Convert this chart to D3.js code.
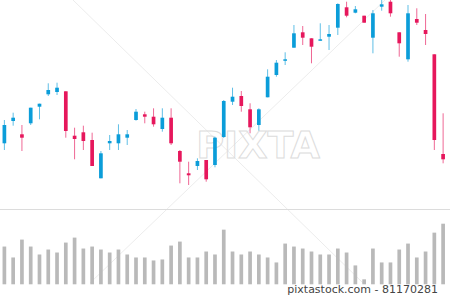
<!DOCTYPE html>
<html>
<head>
<meta charset="utf-8">
<script src="https://cdn.jsdelivr.net/npm/d3@7"></script>
<style>
  body { margin: 0; background: #fff; }
  svg { display: block; }
</style>
</head>
<body>
<svg></svg>
<script>
// price values (arbitrary units)
var opens  = [56.7, 79, 65.7, 76.7, 93.3, 105.7, 108, 108.7, 64.3, 67.7,
              60, 21.7, 56.7, 56.7, 62.3, 80, 85.7, 83.3, 71, 82.3,
              49, 26.7, 34, 40, 35, 63, 98.3, 104, 90.7, 75,
              102.7, 125, 139.3, 152.3, 167.7, 161.7, 159.3, 163.3, 172.3, 192.7,
              187.3, 184.3, 162.3, 193.3, 198.3, 167.7, 140.7, 181, 170, 145.7, 46];
var closes = [75, 82.3, 62.3, 92.3, 96.3, 110, 112.3, 69, 61, 59,
              34, 46.7, 59, 65.7, 65.7, 88.3, 83.3, 75.7, 82.3, 56.7,
              38.3, 24.7, 39, 20.7, 62.3, 99, 103.3, 94, 72.7, 90.7,
              123.3, 137.3, 140.7, 166.7, 162.3, 153.3, 160.7, 166, 196, 184.3,
              190.7, 177.3, 186.7, 195.7, 186.7, 156.7, 186.7, 177.3, 166, 60, 40.7];
var highs  = [80, 87.3, 75, 92.3, 96.3, 116.7, 117.3, 108.7, 72.3, 74.3,
              67.3, 49, 65, 75.7, 70, 91, 88.3, 91.7, 91.7, 91.7,
              50, 38.3, 41.7, 40, 63.3, 100, 112.3, 109, 96.7, 91.7,
              130.7, 140, 147.7, 175, 174, 161.7, 176.7, 175, 196.7, 198.3,
              194, 184.3, 190, 200, 200, 167.7, 195, 191.7, 186, 145.7, 86.7];
var lows   = [50, 74.3, 49, 75, 80.7, 104, 105, 62.3, 40.7, 50,
              34, 21.7, 50, 50, 55, 79.3, 76.7, 73.3, 68.3, 55,
              16.7, 15, 30, 18.3, 32.7, 62, 95, 88.3, 66.7, 69.3,
              102.7, 123.3, 135, 152.3, 155, 136.7, 159.3, 150, 165, 182.7,
              186.7, 177.3, 146.7, 189.3, 183.3, 143.3, 138.3, 175, 155, 50, 36.7];
var volumes = [38, 27, 45, 38, 30, 35, 32, 42, 47, 36,
               38, 35, 32, 35, 30, 27, 27, 24, 25, 39,
               43, 27, 27, 33, 30, 55, 33, 30, 33, 30,
               27, 22, 41, 38, 36, 33, 30, 30, 36, 32,
               19, 5, 36, 22, 22, 35, 41, 27, 33, 52, 61];
var watermark = "PIXTA";
var credit = "pixtastock.com - 81170281";

var width = 450, height = 303;
var upColor = "#0b9dd9", downColor = "#e6175c";

var svg = d3.select("svg")
  .attr("width", width)
  .attr("height", height);

var data = opens.map(function(o, i) {
  return {i: i, open: o, close: closes[i], high: highs[i], low: lows[i], vol: volumes[i]};
});

var x = d3.scaleBand()
  .domain(d3.range(data.length))
  .range([0, 447.5])
  .paddingInner(0.58)
  .paddingOuter(0.29);

var y = d3.scaleLinear()
  .domain([0, 200])
  .range([200, 0]);

var yVol = d3.scaleLinear()
  .domain([0, 61])
  .range([284.3, 223.7]);

// faint watermark behind
var wm = svg.append("g").attr("class", "watermark");
wm.append("line")
  .attr("x1", 73).attr("y1", 0).attr("x2", 363).attr("y2", 283)
  .attr("stroke", "#ececec").attr("stroke-width", 1);
wm.append("line")
  .attr("x1", 385).attr("y1", 0).attr("x2", 90).attr("y2", 283)
  .attr("stroke", "#ececec").attr("stroke-width", 1);
wm.append("text")
  .attr("x", 258).attr("y", 158)
  .attr("text-anchor", "middle")
  .attr("font-family", "DejaVu Sans")
  .attr("font-weight", "bold")
  .attr("font-size", 38)
  .attr("fill", "none")
  .attr("stroke", "#dcdcdc")
  .attr("stroke-width", 1)
  .text(watermark);

// separator between price and volume
svg.append("line")
  .attr("x1", 0).attr("x2", width)
  .attr("y1", 209.5).attr("y2", 209.5)
  .attr("stroke", "#dcdcdc");

var cx = function(d) { return x(d.i) + x.bandwidth() / 2; };
var col = function(d) { return d.close >= d.open ? upColor : downColor; };

var candle = svg.selectAll("g.candle")
  .data(data)
  .enter()
  .append("g")
  .attr("class", "candle");

candle.append("line")
  .attr("x1", cx).attr("x2", cx)
  .attr("y1", function(d) { return y(d.high); })
  .attr("y2", function(d) { return y(d.low); })
  .attr("stroke", col)
  .attr("stroke-opacity", 0.65)
  .attr("stroke-width", 1);

candle.append("rect")
  .attr("x", function(d) { return x(d.i); })
  .attr("width", x.bandwidth())
  .attr("y", function(d) { return y(Math.max(d.open, d.close)); })
  .attr("height", function(d) { return Math.max(1.5, Math.abs(y(d.open) - y(d.close))); })
  .attr("fill", col);

svg.selectAll("rect.vol")
  .data(data)
  .enter()
  .append("rect")
  .attr("class", "vol")
  .attr("x", function(d) { return x(d.i); })
  .attr("width", x.bandwidth())
  .attr("y", function(d) { return yVol(d.vol); })
  .attr("height", function(d) { return yVol(0) - yVol(d.vol); })
  .attr("fill", "#b9b9b9");

svg.append("text")
  .attr("x", 438).attr("y", 293)
  .attr("text-anchor", "end")
  .attr("font-family", "DejaVu Sans")
  .attr("font-size", 11)
  .attr("fill", "#444")
  .text(credit);
</script>
</body>
</html>
